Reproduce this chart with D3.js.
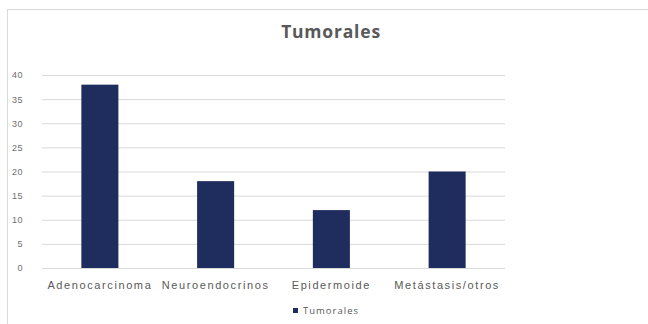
<!DOCTYPE html>
<html>
<head>
<meta charset="utf-8">
<script src="https://cdn.jsdelivr.net/npm/d3@7"></script>
<style>
  body { margin: 0; background: #fff; }
  svg { display: block; font-family: "Open Sans", "Liberation Sans", sans-serif; }
</style>
</head>
<body>
<div id="graph"></div>
<script>
// chart values
var categories = ["Adenocarcinoma", "Neuroendocrinos", "Epidermoide", "Metástasis/otros"];
var tumorales = [38, 18, 12, 20];
var yTicks = [0, 5, 10, 15, 20, 25, 30, 35, 40];
var seriesName = "Tumorales";

(function(){
  "use strict";
  var width = 648, height = 324;
  var left = 42, right = 505, top = 75, bottom = 268;
  var barColor = "#1f2d5e";

  var svg = d3.select("#graph").append("svg")
    .attr("width", width)
    .attr("height", height);

  // chart area border (runs off right and bottom)
  svg.append("rect")
    .attr("x", 7.5).attr("y", 9.5)
    .attr("width", 700).attr("height", 400)
    .attr("fill", "#fff")
    .attr("stroke", "#d9d9d9");

  var x = d3.scaleBand()
    .domain(categories)
    .range([left, right])
    .paddingInner(0.68)
    .paddingOuter(0.34);

  var y = d3.scaleLinear()
    .domain([0, 40])
    .range([bottom, top]);

  // gridlines
  var yAxis = d3.axisLeft(y)
    .tickValues(yTicks)
    .tickSize(-(right - left))
    .tickPadding(19);

  var gy = svg.append("g")
    .attr("transform", "translate(" + left + ",0)")
    .call(yAxis);
  gy.select(".domain").remove();
  gy.selectAll(".tick line").attr("stroke", "#d9d9d9").attr("stroke-width", 1);
  gy.selectAll(".tick text")
    .attr("fill", "#6e6e6e")
    .style("font-size", "9px")
    .style("letter-spacing", "0.5px");

  // bars
  svg.selectAll("rect.bar")
    .data(tumorales)
    .enter()
    .append("rect")
    .attr("class", "bar")
    .attr("x", function(d, i){ return x(categories[i]); })
    .attr("y", function(d){ return y(d); })
    .attr("width", x.bandwidth())
    .attr("height", function(d){ return y(0) - y(d); })
    .attr("fill", barColor);

  // category axis
  var xAxis = d3.axisBottom(x).tickSize(0).tickPadding(13);
  var gx = svg.append("g")
    .attr("transform", "translate(0," + bottom + ")")
    .call(xAxis);
  gx.select(".domain").remove();
  gx.selectAll(".tick text")
    .attr("fill", "#595959")
    .style("font-size", "11px")
    .style("letter-spacing", "1.6px");

  // title
  svg.append("text")
    .attr("x", 331)
    .attr("y", 38)
    .attr("text-anchor", "middle")
    .attr("fill", "#595959")
    .style("font-size", "17.5px")
    .style("font-weight", "bold")
    .style("letter-spacing", "0.8px")
    .text(seriesName);

  // legend
  var legend = svg.append("g").attr("transform", "translate(293,308)");
  legend.append("rect")
    .attr("width", 5).attr("height", 5)
    .attr("fill", barColor);
  legend.append("text")
    .attr("x", 10).attr("y", 5.5)
    .attr("fill", "#595959")
    .style("font-size", "9.5px")
    .style("letter-spacing", "1px")
    .text(seriesName);
})();
</script>
</body>
</html>
